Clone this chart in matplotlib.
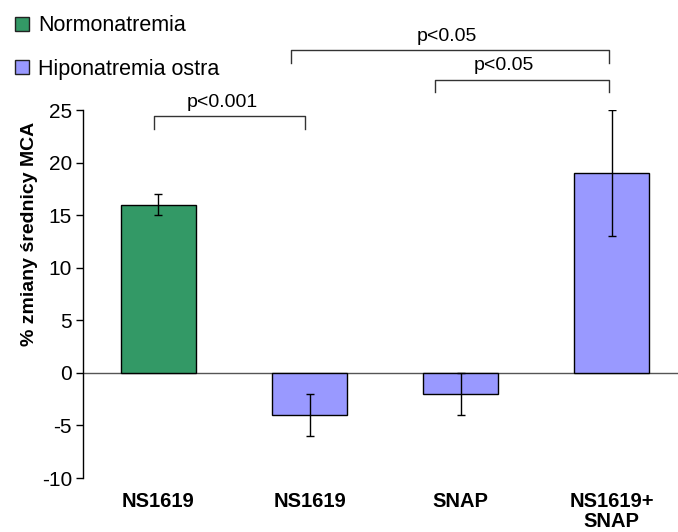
import numpy as np
import matplotlib
matplotlib.use('Agg')
import matplotlib.pyplot as plt
from matplotlib.lines import Line2D

plt.rcParams['font.family'] = ['Liberation Sans', 'DejaVu Sans']
plt.rcParams['axes.unicode_minus'] = False

categories = ['NS1619', 'NS1619', 'SNAP', 'NS1619+\nSNAP']
groups = ['Normonatremia', 'Hiponatremia ostra', 'Hiponatremia ostra', 'Hiponatremia ostra']
values = [16, -4, -2, 19]
errors = [1, 2, 2, 6]
legend_labels = ['Normonatremia', 'Hiponatremia ostra']
group_colors = {'Normonatremia': '#339966', 'Hiponatremia ostra': '#9999FF'}
# significance brackets: (x left, x right, height, label x, label)
comparisons = [(-0.03, 0.97, 24.4, 0.42, 'p<0.001'),
               (0.88, 2.98, 30.7, 1.91, 'p<0.05'),
               (1.83, 2.98, 27.9, 2.29, 'p<0.05')]

fig = plt.figure(figsize=(6.78, 5.32), dpi=100)
ax = fig.add_axes([0.1224, 0.1015, 0.8776, 0.6917])

x = np.arange(len(categories))
colors = [group_colors[g] for g in groups]
ax.bar(x, values, width=0.5, color=colors, edgecolor='black', linewidth=1, zorder=2)
ax.errorbar(x, values, yerr=errors, fmt='none', ecolor='black', elinewidth=1,
            capsize=3, capthick=1, zorder=3)
ax.axhline(0, color='#555555', linewidth=1, zorder=1)

ax.set_xlim(-0.5, 3.44)
ax.set_ylim(-10, 25)
ax.set_yticks(range(-10, 26, 5))
ax.set_xticks(x)
ax.set_xticklabels(categories, fontsize=14.5, fontweight='bold', va='top',
                   linespacing=1.05)
ax.tick_params(axis='x', length=0, pad=10)
ax.tick_params(axis='y', labelsize=15, length=5, width=1, direction='out', pad=3)
for s in ['top', 'right', 'bottom']:
    ax.spines[s].set_visible(False)
ax.spines['left'].set_linewidth(1)
ax.set_ylabel('% zmiany średnicy MCA', fontsize=14, fontweight='bold')
ax.yaxis.set_label_coords(-0.076, 0.663)

for xa, xb, h, lx, lab in comparisons:
    ax.plot([xa, xa, xb, xb], [h - 1.2, h, h, h - 1.2], color='#333333', lw=1,
            clip_on=False)
    ax.text(lx, h + 0.5, lab, ha='center', va='bottom', fontsize=14)

handles = [Line2D([], [], marker='s', linestyle='none', markersize=10,
                  markerfacecolor=group_colors[g], markeredgecolor='#222222')
           for g in legend_labels]
fig.legend(handles, legend_labels, loc='upper left', bbox_to_anchor=(-0.004, 1.0),
           frameon=False, fontsize=15.5, handlelength=0.9, handletextpad=0.3,
           labelspacing=1.05, borderaxespad=0.3)

fig.savefig('out.png', dpi=100)
